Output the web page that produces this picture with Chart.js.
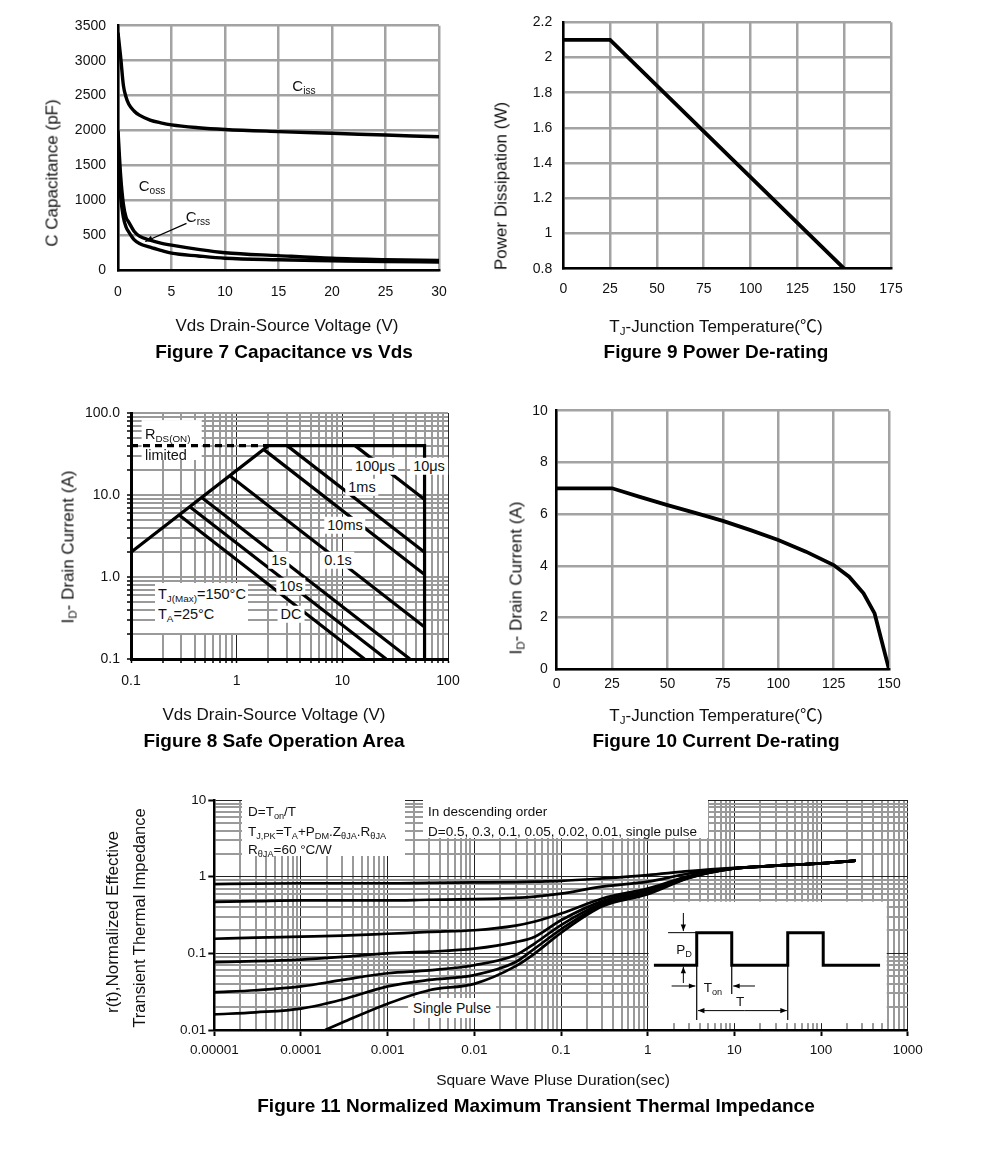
<!DOCTYPE html>
<html><head><meta charset="utf-8">
<script src="https://cdn.jsdelivr.net/npm/chart.js@4.4.1/dist/chart.umd.min.js"></script>
<style>
html,body{margin:0;padding:0;background:#fff;}
#page{position:relative;width:991px;height:1168px;overflow:hidden;font-family:"Liberation Sans",Arial,sans-serif;color:#111;}
canvas{position:absolute;left:0;top:0;}
.t{position:absolute;white-space:nowrap;line-height:1;}
.c{transform:translate(-50%,-50%);}
.ax{font-size:17px;}
.cap{font-size:19px;font-weight:bold;color:#000;}
.yt{font-size:17px;transform:translate(-50%,-50%) rotate(-90deg);}
.lb{font-size:14.5px;background:#fff;padding:1px 3px;}
.sm{font-size:13.5px;}
sub{font-size:0.68em;vertical-align:-0.3em;line-height:0;}
.cjk{font-family:"Noto Sans CJK SC",sans-serif;}
</style></head>
<body><div id="page">
<canvas id="c7" width="991" height="1168"></canvas>
<canvas id="c9" width="991" height="1168"></canvas>
<canvas id="c8" width="991" height="1168"></canvas>
<canvas id="c10" width="991" height="1168"></canvas>
<canvas id="c11" width="991" height="1168"></canvas>

<!-- Figure 7 texts -->
<div class="t c" style="left:304px;top:85px;font-size:15px;">C<sub>iss</sub></div>
<div class="t c" style="left:152px;top:185px;font-size:15px;">C<sub>oss</sub></div>
<div class="t c" style="left:198px;top:216px;font-size:15px;">C<sub>rss</sub></div>
<div class="t c ax" style="left:287px;top:325px;">Vds Drain-Source Voltage (V)</div>
<div class="t cap c" style="left:284px;top:351px;">Figure 7 Capacitance vs Vds</div>
<div class="t yt" style="left:52px;top:173px;">C Capacitance (pF)</div>

<!-- Figure 9 texts -->
<div class="t c ax" style="left:716px;top:325px;">T<sub>J</sub>-Junction Temperature(<span class="cjk">℃</span>)</div>
<div class="t cap c" style="left:716px;top:351px;">Figure 9 Power De-rating</div>
<div class="t yt" style="left:501px;top:186px;">Power Dissipation (W)</div>

<!-- Figure 8 texts -->
<div class="t" style="left:145px;top:427px;font-size:14.5px;">R<sub>DS(ON)</sub></div>
<div class="t" style="left:145px;top:448px;font-size:14.5px;">limited</div>
<div class="t lb c" style="left:375px;top:466px;">100μs</div>
<div class="t lb c" style="left:429px;top:466px;">10μs</div>
<div class="t lb c" style="left:362px;top:487px;">1ms</div>
<div class="t lb c" style="left:345px;top:525px;">10ms</div>
<div class="t lb c" style="left:279px;top:560px;">1s</div>
<div class="t lb c" style="left:338px;top:560px;">0.1s</div>
<div class="t lb c" style="left:291px;top:586px;">10s</div>
<div class="t lb c" style="left:291px;top:614px;">DC</div>
<div class="t" style="left:155px;top:583px;width:93px;height:50px;background:#fff;"></div>
<div class="t" style="left:158px;top:587px;font-size:14.5px;">T<sub>J(Max)</sub>=150°C</div>
<div class="t" style="left:158px;top:607px;font-size:14.5px;">T<sub>A</sub>=25°C</div>
<div class="t c ax" style="left:274px;top:714px;">Vds Drain-Source Voltage (V)</div>
<div class="t cap c" style="left:274px;top:740px;">Figure 8 Safe Operation Area</div>
<div class="t yt" style="left:68px;top:547px;">I<sub>D</sub>- Drain Current (A)</div>

<!-- Figure 10 texts -->
<div class="t c ax" style="left:716px;top:714px;">T<sub>J</sub>-Junction Temperature(<span class="cjk">℃</span>)</div>
<div class="t cap c" style="left:716px;top:740px;">Figure 10 Current De-rating</div>
<div class="t yt" style="left:516px;top:578px;">I<sub>D</sub>- Drain Current (A)</div>

<!-- Figure 11 texts -->
<div class="t" style="left:242px;top:798px;width:163px;height:58px;background:#fff;"></div>
<div class="t sm" style="left:248px;top:805px;">D=T<sub>on</sub>/T</div>
<div class="t sm" style="left:248px;top:825px;">T<sub>J,PK</sub>=T<sub>A</sub>+P<sub>DM</sub>.Z<sub>θJA</sub>.R<sub>θJA</sub></div>
<div class="t sm" style="left:248px;top:843px;">R<sub>θJA</sub>=60 °C/W</div>
<div class="t" style="left:423px;top:798px;width:285px;height:40px;background:#fff;"></div>
<div class="t sm" style="left:428px;top:805px;">In descending order</div>
<div class="t sm" style="left:428px;top:825px;">D=0.5, 0.3, 0.1, 0.05, 0.02, 0.01, single pulse</div>
<div class="t lb c" style="left:452px;top:1008px;padding:3px 5px;font-size:14px;">Single Pulse</div>
<div class="t c sm" style="left:684px;top:950px;">P<sub>D</sub></div>
<div class="t c sm" style="left:713px;top:988px;">T<sub>on</sub></div>
<div class="t c sm" style="left:740px;top:1002px;">T</div>
<div class="t c" style="left:553px;top:1080px;font-size:15.5px;">Square Wave Pluse Duration(sec)</div>
<div class="t cap c" style="left:536px;top:1105px;">Figure 11 Normalized Maximum Transient Thermal Impedance</div>
<div class="t yt" style="left:112px;top:922px;font-size:17px;">r(t),Normalized Effective</div>
<div class="t yt" style="left:139px;top:918px;font-size:16.5px;">Transient Thermal Impedance</div>
</div>

<script>
// ---------------- DATA ----------------
// Figure 7: Capacitance vs Vds
const vdsPoints  = [0, 0.25, 0.5, 0.75, 1, 1.5, 2, 3, 4, 5, 7.5, 10, 15, 20, 25, 30];
const cissValues = [3400, 3050, 2650, 2480, 2380, 2280, 2220, 2150, 2110, 2080, 2040, 2015, 1985, 1960, 1935, 1910];
const cossValues = [2000, 1350, 950, 760, 690, 560, 490, 432, 390, 360, 300, 252, 210, 172, 152, 140];
const crssValues = [1600, 1050, 760, 620, 550, 440, 385, 330, 285, 245, 205, 172, 150, 137, 125, 118];
const crssArrow  = [[6.4, 672], [2.55, 412]];

// Figure 9: Power De-rating
const tjPower  = [0, 25, 150];
const pdValues = [2.1, 2.1, 0.8];

// Figure 10: Current De-rating
const tjCurrent = [0, 25, 37.5, 50, 62.5, 75, 87.5, 100, 112.5, 125, 132, 138.5, 143.5, 150];
const idValues  = [7, 7, 6.67, 6.35, 6.05, 5.74, 5.38, 5.0, 4.55, 4.03, 3.58, 2.94, 2.16, 0];

// Figure 8: Safe Operation Area  (pairs of [Vds, Id])
const soaBoundary = [[0.1, 2], [2, 40], [60, 40], [60, 0.1]];
const soaRdsLimit = [[0.1, 40], [2, 40]];
const soa100us = [[13.2, 40], [60, 8.8]];
const soa1ms   = [[3.0, 40], [60, 2.0]];
const soa10ms  = [[1.8, 36], [60, 1.07]];
const soa100ms = [[0.86, 17.2], [60, 0.245]];
const soa1s    = [[0.467, 9.3], [43.6, 0.1]];
const soa10s   = [[0.36, 7.2], [26, 0.1]];
const soaDC    = [[0.285, 5.7], [16.2, 0.1]];
const soaXTickValues = [0.1, 1, 10, 100];
const soaXTickLabels = ['0.1', '1', '10', '100'];
const soaYTickValues = [0.1, 1, 10, 100];
const soaYTickLabels = ['0.1', '1.0', '10.0', '100.0'];
const rdsBox = [[0.126, 26.7], [0.467, 82]];

// Figure 11: Normalized transient thermal impedance
const zthT   = [1e-5, 3e-5, 1e-4, 3e-4, 1e-3, 3e-3, 1e-2, 3e-2, 5e-2, 0.1, 0.3, 1, 3, 10, 30, 100, 250];
const zthD50 = [0.80, 0.81, 0.82, 0.82, 0.82, 0.83, 0.84, 0.85, 0.86, 0.88, 0.95, 1.05, 1.18, 1.30, 1.39, 1.49, 1.62];
const zthD30 = [0.47, 0.48, 0.49, 0.49, 0.49, 0.50, 0.51, 0.53, 0.55, 0.60, 0.74, 0.86, 1.10, 1.28, 1.39, 1.49, 1.62];
const zthD10 = [0.155, 0.16, 0.165, 0.17, 0.18, 0.19, 0.20, 0.23, 0.26, 0.33, 0.52, 0.70, 1.02, 1.28, 1.39, 1.49, 1.62];
const zthD05 = [0.077, 0.079, 0.083, 0.09, 0.10, 0.105, 0.115, 0.14, 0.165, 0.27, 0.48, 0.66, 1.0, 1.28, 1.39, 1.49, 1.62];
const zthD02 = [0.031, 0.033, 0.037, 0.045, 0.055, 0.06, 0.07, 0.095, 0.135, 0.234, 0.45, 0.63, 0.98, 1.28, 1.39, 1.49, 1.62];
const zthD01 = [0.016, 0.017, 0.019, 0.025, 0.037, 0.045, 0.052, 0.077, 0.116, 0.206, 0.43, 0.61, 0.97, 1.28, 1.39, 1.49, 1.62];
const singleT = [1.9e-4, 3e-4, 1e-3, 3e-3, 1e-2, 3e-2, 5e-2, 0.1, 0.3, 1, 3, 10, 30, 100, 250];
const singleR = [0.01, 0.0125, 0.022, 0.033, 0.040, 0.068, 0.10, 0.185, 0.41, 0.59, 0.96, 1.28, 1.39, 1.49, 1.62];
const zthXTickValues = [1e-5, 1e-4, 1e-3, 1e-2, 0.1, 1, 10, 100, 1000];
const zthXTickLabels = ['0.00001', '0.0001', '0.001', '0.01', '0.1', '1', '10', '100', '1000'];
const zthYTickValues = [0.01, 0.1, 1, 10];
const zthYTickLabels = ['0.01', '0.1', '1', '10'];
// inset pulse diagram (in axis units)
const insetBox = [[1, 0.0123], [573, 0.472]];
const pulseT = [1.18, 3.68, 3.68, 9.33, 9.33, 41.3, 41.3, 106, 106, 480];
const pulseR = [0.07, 0.07, 0.186, 0.186, 0.07, 0.07, 0.186, 0.186, 0.07, 0.07];

// ---------------- HELPERS ----------------
const W = 991, H = 1168;
Chart.defaults.font.family = '"Liberation Sans", Arial, sans-serif';
Chart.defaults.color = '#111';
function pts(xs, ys) { return xs.map((x, i) => ({x: x, y: ys[i]})); }
function pairPts(p) { return p.map(a => ({x: a[0], y: a[1]})); }
function layoutFor(t, r, b, xh) { return {padding: {left: 0, top: t, right: W - r, bottom: H - b - xh}}; }
function isDecade(v) { const l = Math.log10(v); return Math.abs(l - Math.round(l)) < 1e-6; }
function logTicks(minExp, maxExp) {
  const out = [];
  for (let e = minExp; e < maxExp; e++) for (let k = 1; k <= 9; k++) out.push(k * Math.pow(10, e));
  out.push(Math.pow(10, maxExp));
  return out;
}
function labelFrom(vals, labels) {
  return v => { for (let i = 0; i < vals.length; i++) if (Math.abs(Math.log10(v) - Math.log10(vals[i])) < 1e-6) return labels[i]; return ''; };
}
function drawArrow(ctx, x1, y1, x2, y2, head, lw) {
  ctx.save(); ctx.strokeStyle = '#000'; ctx.fillStyle = '#000'; ctx.lineWidth = lw || 1.2;
  ctx.beginPath(); ctx.moveTo(x1, y1); ctx.lineTo(x2, y2); ctx.stroke();
  if (head) {
    const a = Math.atan2(y2 - y1, x2 - x1);
    ctx.beginPath(); ctx.moveTo(x2, y2);
    ctx.lineTo(x2 - head * Math.cos(a - 0.38), y2 - head * Math.sin(a - 0.38));
    ctx.lineTo(x2 - head * Math.cos(a + 0.38), y2 - head * Math.sin(a + 0.38));
    ctx.closePath(); ctx.fill();
  }
  ctx.restore();
}
const base = {
  responsive: false, animation: false, events: [],
  plugins: {legend: {display: false}, tooltip: {enabled: false}},
  elements: {point: {radius: 0}, line: {borderColor: '#000', borderWidth: 3.4, fill: false, tension: 0}}
};
const GRID = '#a3a3a3';
function linAxis(min, max, step, opts) {
  return Object.assign({
    type: 'linear', min: min, max: max,
    ticks: {stepSize: step, font: {size: 14}, color: '#111', maxRotation: 0, autoSkip: false},
    grid: {color: GRID, lineWidth: 2.5, drawTicks: false},
    border: {color: '#000', width: 2.5}
  }, opts);
}

// ---------------- FIGURE 7 ----------------
new Chart(document.getElementById('c7'), {
  type: 'line',
  data: {datasets: [
    {data: pts(vdsPoints, cissValues), cubicInterpolationMode: 'monotone'},
    {data: pts(vdsPoints, cossValues), cubicInterpolationMode: 'monotone'},
    {data: pts(vdsPoints, crssValues), cubicInterpolationMode: 'monotone'}
  ]},
  options: Object.assign({}, base, {
    layout: layoutFor(25.7, 439, 270.3, 40),
    scales: {
      x: linAxis(0, 30, 5, {afterFit: s => { s.height = 40; }}),
      y: linAxis(0, 3500, 500, {afterFit: s => { s.width = 118; }})
    }
  }),
  plugins: [{
    id: 'arrow7',
    afterDatasetsDraw(chart) {
      const xs = chart.scales.x, ys = chart.scales.y;
      drawArrow(chart.ctx, xs.getPixelForValue(crssArrow[0][0]), ys.getPixelForValue(crssArrow[0][1]),
        xs.getPixelForValue(crssArrow[1][0]), ys.getPixelForValue(crssArrow[1][1]), 8, 1.3);
    }
  }]
});
{
  const c = Chart.getChart('c7');
  c.options.scales.x.ticks.padding = 13; c.options.scales.y.ticks.padding = 12;
  c.options.scales.y.ticks.callback = v => String(v);
  c.update();
}

// ---------------- FIGURE 9 ----------------
new Chart(document.getElementById('c9'), {
  type: 'line',
  data: {datasets: [{data: pts(tjPower, pdValues), borderWidth: 3.8}]},
  options: Object.assign({}, base, {
    layout: layoutFor(22.3, 891, 268.7, 40),
    scales: {
      x: linAxis(0, 175, 25, {afterFit: s => { s.height = 40; }}),
      y: linAxis(0.8, 2.2, 0.2, {afterFit: s => { s.width = 563.3; }})
    }
  })
});
{
  const c = Chart.getChart('c9');
  c.options.scales.x.ticks.padding = 12; c.options.scales.y.ticks.padding = 11;
  c.options.scales.y.ticks.callback = v => String(+v.toFixed(1));
  c.update();
}

// ---------------- FIGURE 10 ----------------
new Chart(document.getElementById('c10'), {
  type: 'line',
  data: {datasets: [{data: pts(tjCurrent, idValues), borderWidth: 3.8}]},
  options: Object.assign({}, base, {
    layout: layoutFor(410.7, 889, 669.3, 40),
    scales: {
      x: linAxis(0, 150, 25, {afterFit: s => { s.height = 40; }}),
      y: linAxis(0, 10, 2, {afterFit: s => { s.width = 556.7; }})
    }
  })
});
{
  const c = Chart.getChart('c10');
  c.options.scales.x.ticks.padding = 6; c.options.scales.y.ticks.padding = 9;
  c.update();
}

// ---------------- FIGURE 8 ----------------
const soaLine = {borderColor: '#000', borderWidth: 3.2};
new Chart(document.getElementById('c8'), {
  type: 'line',
  data: {datasets: [
    Object.assign({data: pairPts(soaRdsLimit), borderDash: [7, 5]}, soaLine),
    Object.assign({data: pairPts(soaBoundary)}, soaLine),
    Object.assign({data: pairPts(soa100us)}, soaLine),
    Object.assign({data: pairPts(soa1ms)}, soaLine),
    Object.assign({data: pairPts(soa10ms)}, soaLine),
    Object.assign({data: pairPts(soa100ms)}, soaLine),
    Object.assign({data: pairPts(soa1s)}, soaLine),
    Object.assign({data: pairPts(soa10s)}, soaLine),
    Object.assign({data: pairPts(soaDC)}, soaLine)
  ]},
  options: Object.assign({}, base, {
    layout: layoutFor(413, 448, 659, 40),
    scales: {
      x: {
        type: 'logarithmic', min: 0.1, max: 100,
        afterBuildTicks: s => { s.ticks = logTicks(-1, 2).map(v => ({value: v})); },
        ticks: {callback: labelFrom(soaXTickValues, soaXTickLabels), font: {size: 14}, color: '#111', padding: 10, maxRotation: 0, autoSkip: false},
        grid: {
          color: c => (c.tick && isDecade(c.tick.value)) ? '#222' : '#9a9a9a',
          lineWidth: c => (c.tick && isDecade(c.tick.value)) ? 1 : 2,
          drawTicks: true, tickLength: 4, tickColor: '#000', tickWidth: 1.5
        },
        border: {color: '#000', width: 3},
        afterFit: s => { s.height = 40; }
      },
      y: {
        type: 'logarithmic', min: 0.1, max: 100,
        afterBuildTicks: s => { s.ticks = logTicks(-1, 2).map(v => ({value: v})); },
        ticks: {callback: labelFrom(soaYTickValues, soaYTickLabels), font: {size: 14}, color: '#111', padding: 7, autoSkip: false},
        grid: {color: '#9a9a9a', lineWidth: 2, drawTicks: true, tickLength: 4, tickColor: '#000', tickWidth: 1.5},
        border: {color: '#000', width: 3},
        afterFit: s => { s.width = 131; }
      }
    }
  }),
  plugins: [{
    id: 'rdsbox',
    beforeDatasetsDraw(chart) {
      const xs = chart.scales.x, ys = chart.scales.y, ctx = chart.ctx;
      const x1 = xs.getPixelForValue(rdsBox[0][0]), x2 = xs.getPixelForValue(rdsBox[1][0]);
      const y1 = ys.getPixelForValue(rdsBox[1][1]), y2 = ys.getPixelForValue(rdsBox[0][1]);
      ctx.save(); ctx.fillStyle = '#fff'; ctx.fillRect(x1, y1, x2 - x1, y2 - y1); ctx.restore();
    }
  }]
});

// ---------------- FIGURE 11 ----------------
const zLine = {borderColor: '#000', borderWidth: 2.7, cubicInterpolationMode: 'monotone'};
new Chart(document.getElementById('c11'), {
  type: 'line',
  data: {datasets: [
    Object.assign({data: pts(zthT, zthD50)}, zLine),
    Object.assign({data: pts(zthT, zthD30)}, zLine),
    Object.assign({data: pts(zthT, zthD10)}, zLine),
    Object.assign({data: pts(zthT, zthD05)}, zLine),
    Object.assign({data: pts(zthT, zthD02)}, zLine),
    Object.assign({data: pts(zthT, zthD01)}, zLine),
    Object.assign({data: pts(singleT, singleR)}, zLine)
  ]},
  options: Object.assign({}, base, {
    layout: layoutFor(800, 907.7, 1030, 40),
    scales: {
      x: {
        type: 'logarithmic', min: 1e-5, max: 1000,
        afterBuildTicks: s => { s.ticks = logTicks(-5, 3).map(v => ({value: v})); },
        ticks: {callback: labelFrom(zthXTickValues, zthXTickLabels), font: {size: 13.5}, color: '#111', padding: 6, maxRotation: 0, autoSkip: false},
        grid: {
          color: c => (c.tick && isDecade(c.tick.value)) ? '#222' : '#9a9a9a',
          lineWidth: c => (c.tick && isDecade(c.tick.value)) ? 1 : 2,
          drawTicks: true, tickLength: 6,
          tickColor: c => (c.tick && isDecade(c.tick.value)) ? '#000' : 'rgba(0,0,0,0)', tickWidth: 2
        },
        border: {color: '#000', width: 2.5},
        afterFit: s => { s.height = 40; }
      },
      y: {
        type: 'logarithmic', min: 0.01, max: 10,
        afterBuildTicks: s => { s.ticks = logTicks(-2, 1).map(v => ({value: v})); },
        ticks: {callback: labelFrom(zthYTickValues, zthYTickLabels), font: {size: 13.5}, color: '#111', padding: 2, autoSkip: false},
        grid: {
          color: c => (c.tick && isDecade(c.tick.value)) ? '#222' : '#9a9a9a',
          lineWidth: c => (c.tick && isDecade(c.tick.value)) ? 1 : 2,
          drawTicks: true, tickLength: 6,
          tickColor: c => (c.tick && isDecade(c.tick.value)) ? '#000' : 'rgba(0,0,0,0)', tickWidth: 2
        },
        border: {color: '#000', width: 2.5},
        afterFit: s => { s.width = 214.3; }
      }
    }
  }),
  plugins: [{
    id: 'inset',
    beforeDatasetsDraw(chart) {
      const xs = chart.scales.x, ys = chart.scales.y, ctx = chart.ctx;
      const x1 = xs.getPixelForValue(insetBox[0][0]) + 1, x2 = xs.getPixelForValue(insetBox[1][0]);
      const y1 = ys.getPixelForValue(insetBox[1][1]), y2 = ys.getPixelForValue(insetBox[0][1]);
      ctx.save(); ctx.fillStyle = '#fff'; ctx.fillRect(x1, y1, x2 - x1, y2 - y1); ctx.restore();
    },
    afterDatasetsDraw(chart) {
      const xs = chart.scales.x, ys = chart.scales.y, ctx = chart.ctx;
      const P = (t, r) => [xs.getPixelForValue(t), ys.getPixelForValue(r)];
      ctx.save(); ctx.strokeStyle = '#000'; ctx.lineWidth = 3; ctx.beginPath();
      pulseT.forEach((t, i) => { const p = P(t, pulseR[i]); if (i === 0) ctx.moveTo(p[0], p[1]); else ctx.lineTo(p[0], p[1]); });
      ctx.stroke(); ctx.restore();
      const seg = (a, b, head, lw) => { const p = P(a[0], a[1]), q = P(b[0], b[1]); drawArrow(ctx, p[0], p[1], q[0], q[1], head, lw); };
      seg([1.72, 0.186], [3.68, 0.186], 0, 1);
      seg([2.58, 0.336], [2.58, 0.195], 7, 1);
      seg([2.58, 0.041], [2.58, 0.067], 7, 1);
      seg([1.89, 0.0375], [3.55, 0.0375], 7, 1);
      seg([17.3, 0.0375], [9.7, 0.0375], 7, 1);
      seg([9.33, 0.07], [9.33, 0.0295], 0, 1.2);
      seg([3.68, 0.07], [3.68, 0.0135], 0, 1.2);
      seg([41.3, 0.07], [41.3, 0.0135], 0, 1.2);
      seg([13, 0.0179], [3.8, 0.0179], 7, 1);
      seg([13, 0.0179], [40.3, 0.0179], 7, 1);
    }
  }]
});
</script>
</body></html>
